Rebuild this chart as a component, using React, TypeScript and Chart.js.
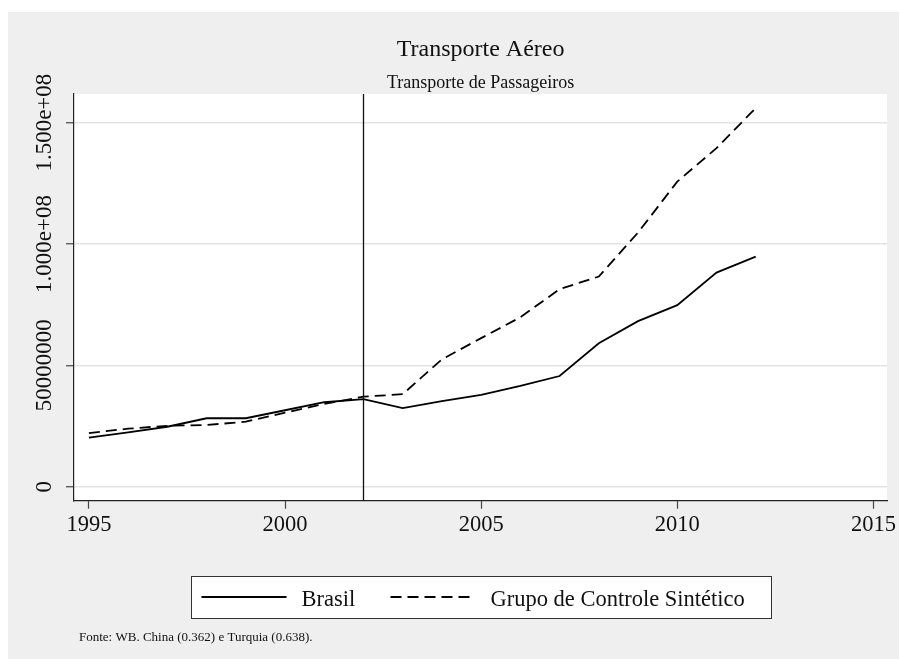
import React, { useEffect, useRef } from "react";
import { Chart, registerables } from "chart.js";

Chart.register(...registerables);

const YEARS = [1995, 1996, 1997, 1998, 1999, 2000, 2001, 2002, 2003, 2004, 2005, 2006, 2007, 2008, 2009, 2010, 2011, 2012];
const BRASIL = [20200000, 22400000, 24700000, 28200000, 28200000, 31500000, 34800000, 36100000, 32400000, 35300000, 37800000, 41500000, 45600000, 59100000, 68200000, 74800000, 88200000, 94800000];
const SINTETICO = [22100000, 23900000, 25100000, 25400000, 26800000, 30500000, 34100000, 37100000, 38100000, 52500000, 61200000, 69800000, 81400000, 86600000, 104700000, 125700000, 139500000, 156000000];

const X_TICKS = [1995, 2000, 2005, 2010, 2015];
const Y_TICKS = [0, 50000000, 100000000, 150000000];
const Y_TICK_LABELS = ["0", "50000000", "1.000e+08", "1.500e+08"];
const TREATMENT_YEAR = 2002;

const X_MIN = 1994.62;
const X_MAX = 2015.35;
const Y_MIN = -5770000;
const Y_MAX = 161800000;

const TITLE = "Transporte Aéreo";
const SUBTITLE = "Transporte de Passageiros";
const SERIES_NAMES = ["Brasil", "Grupo de Controle Sintético"];
const NOTE = "Fonte: WB. China (0.362) e Turquia (0.638).";

const FONT = "'Liberation Serif', 'Times New Roman', serif";
const DASH = [11, 6];

const stataPlugin = {
  id: "stataPlugin",
  beforeDraw(chart: any) {
    const { ctx, chartArea } = chart;
    ctx.save();
    ctx.fillStyle = "#efefef";
    ctx.fillRect(0, 0, chart.width, chart.height);
    ctx.fillStyle = "#ffffff";
    ctx.fillRect(chartArea.left, chartArea.top, chartArea.right - chartArea.left, chartArea.bottom - chartArea.top);
    ctx.restore();
  },
  afterDraw(chart: any) {
    const { ctx, chartArea, scales } = chart;
    const cx = (chartArea.left + chartArea.right) / 2;
    ctx.save();

    // treatment line
    const vx = Math.round(scales.x.getPixelForValue(TREATMENT_YEAR)) + 0.5;
    ctx.strokeStyle = "#111";
    ctx.lineWidth = 1.3;
    ctx.setLineDash([]);
    ctx.beginPath();
    ctx.moveTo(vx, chartArea.top);
    ctx.lineTo(vx, chartArea.bottom);
    ctx.stroke();

    // y tick labels (rotated)
    ctx.fillStyle = "#111";
    ctx.font = `23px ${FONT}`;
    ctx.textAlign = "center";
    ctx.textBaseline = "alphabetic";
    Y_TICKS.forEach((v, i) => {
      const py = scales.y.getPixelForValue(v);
      ctx.save();
      ctx.translate(43, py);
      ctx.rotate(-Math.PI / 2);
      ctx.fillText(Y_TICK_LABELS[i], 0, 0);
      ctx.restore();
    });

    // titles
    ctx.textAlign = "center";
    ctx.font = `24px ${FONT}`;
    ctx.fillText(TITLE, cx, 43.5);
    ctx.font = `18px ${FONT}`;
    ctx.fillText(SUBTITLE, cx, 75.5);

    // legend
    const boxW = 580;
    const boxL = Math.round(cx - boxW / 2) + 0.5;
    const boxT = 564.5;
    const boxH = 42;
    ctx.fillStyle = "#ffffff";
    ctx.fillRect(boxL, boxT, boxW, boxH);
    ctx.strokeStyle = "#333";
    ctx.lineWidth = 1;
    ctx.strokeRect(boxL, boxT, boxW, boxH);

    const lineY = 585;
    ctx.lineWidth = 1.8;
    ctx.strokeStyle = "#000";
    ctx.setLineDash([]);
    ctx.beginPath();
    ctx.moveTo(boxL + 10, lineY);
    ctx.lineTo(boxL + 95, lineY);
    ctx.stroke();
    ctx.setLineDash(DASH);
    ctx.beginPath();
    ctx.moveTo(boxL + 199, lineY);
    ctx.lineTo(boxL + 284, lineY);
    ctx.stroke();
    ctx.setLineDash([]);

    ctx.fillStyle = "#111";
    ctx.font = `22.5px ${FONT}`;
    ctx.textAlign = "left";
    ctx.fillText(SERIES_NAMES[0], boxL + 110, 594);
    ctx.fillText(SERIES_NAMES[1], boxL + 299, 594);

    // note
    ctx.font = `13px ${FONT}`;
    ctx.fillText(NOTE, 71, 628.5);

    ctx.restore();
  },
};

export default function App() {
  const ref = useRef<HTMLCanvasElement>(null);

  useEffect(() => {
    const canvas = ref.current;
    if (!canvas) return;
    const chart = new Chart(canvas, {
      type: "line",
      data: {
        datasets: [
          {
            label: SERIES_NAMES[0],
            data: YEARS.map((y, i) => ({ x: y, y: BRASIL[i] })),
            borderColor: "#000",
            borderWidth: 1.8,
            pointRadius: 0,
            tension: 0,
            fill: false,
          },
          {
            label: SERIES_NAMES[1],
            data: YEARS.map((y, i) => ({ x: y, y: SINTETICO[i] })),
            borderColor: "#000",
            borderWidth: 1.8,
            borderDash: DASH,
            pointRadius: 0,
            tension: 0,
            fill: false,
          },
        ],
      },
      options: {
        responsive: false,
        animation: false,
        devicePixelRatio: 1,
        layout: { padding: { left: 0, right: 7, top: 82, bottom: 118.3 } },
        plugins: {
          legend: { display: false },
          title: { display: false },
          tooltip: { enabled: false },
        },
        scales: {
          x: {
            type: "linear",
            min: X_MIN,
            max: X_MAX,
            afterBuildTicks: (s: any) => {
              s.ticks = X_TICKS.map((v) => ({ value: v }));
            },
            afterFit: (s: any) => {
              s.height = 40;
            },
            ticks: {
              autoSkip: false,
              maxRotation: 0,
              minRotation: 0,
              padding: 3,
              color: "#111",
              font: { family: FONT, size: 22.5 },
              callback: (v: any) => String(v),
            },
            grid: {
              drawOnChartArea: false,
              drawTicks: true,
              tickLength: 8,
              tickColor: "#444",
              tickWidth: 1.2,
            },
            border: { display: true, color: "#222", width: 1.2 },
          },
          y: {
            type: "linear",
            min: Y_MIN,
            max: Y_MAX,
            afterBuildTicks: (s: any) => {
              s.ticks = Y_TICKS.map((v) => ({ value: v }));
            },
            afterFit: (s: any) => {
              s.width = 66;
            },
            ticks: { display: false },
            grid: {
              color: "#e4e4e4",
              lineWidth: 1.5,
              drawTicks: true,
              tickLength: 8,
              tickColor: "#444",
              tickWidth: 1.2,
            },
            border: { display: true, color: "#222", width: 1.2 },
          },
        },
      },
      plugins: [stataPlugin],
    } as any);
    return () => chart.destroy();
  }, []);

  return (
    <div style={{ position: "fixed", left: 8, top: 12, width: 891, height: 647 }}>
      <canvas ref={ref} width={891} height={647} style={{ display: "block", width: 891, height: 647 }} />
    </div>
  );
}
